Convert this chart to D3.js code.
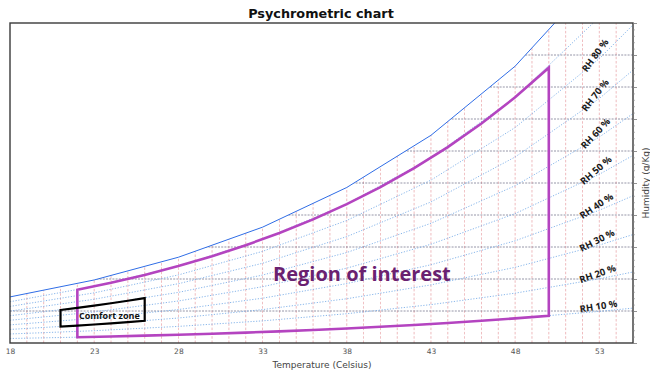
<!DOCTYPE html>
<html>
<head>
<meta charset="utf-8">
<script src="https://cdn.jsdelivr.net/npm/d3@7/dist/d3.min.js"></script>
<style>
  html, body { margin: 0; padding: 0; background: #fff; }
  svg { display: block; }
</style>
</head>
<body>
<svg id="chart" width="650" height="372"></svg>
<script>
// Dry-bulb temperatures (°C) at which the curves are tabulated
const tempKnots = [18, 23, 28, 33, 38, 43, 48, 53, 55];
// Saturation humidity ratio (g/kg)
const saturation = [14.4, 19.7, 26.8, 36.2, 48.6, 64.9, 86.5, 115.2, 129.4];
// Constant relative-humidity curves (g/kg)
const rhLevels = [10, 20, 30, 40, 50, 60, 70, 80, 90];
const rh10 = [1.41, 1.92, 2.58, 3.44, 4.54, 5.94, 7.69, 9.88, 10.90];
const rh20 = [2.82, 3.84, 5.19, 6.92, 9.15, 11.99, 15.57, 20.07, 22.19];
const rh30 = [4.24, 5.78, 7.81, 10.44, 13.83, 18.16, 23.65, 30.60, 33.89];
const rh40 = [5.66, 7.74, 10.46, 14.00, 18.57, 24.45, 31.94, 41.48, 46.02];
const rh50 = [7.10, 9.70, 13.13, 17.59, 23.39, 30.86, 40.44, 52.72, 58.62];
const rh60 = [8.53, 11.68, 15.82, 21.23, 28.28, 37.40, 49.16, 64.36, 71.69];
const rh70 = [9.98, 13.67, 18.53, 24.91, 33.25, 44.08, 58.13, 76.41, 85.28];
const rh80 = [11.43, 15.67, 21.27, 28.64, 38.29, 50.89, 67.33, 88.88, 99.40];
const rh90 = [12.89, 17.68, 24.03, 32.40, 43.41, 57.84, 76.78, 101.81, 114.1];
const rhLabels = ["RH 10 %", "RH 20 %", "RH 30 %", "RH 40 %", "RH 50 %", "RH 60 %", "RH 70 %", "RH 80 %"];

// Region of interest: 22–50 °C between RH 10 % and RH 90 %
const regionTemps = [22, 24, 26, 28, 30, 32, 34, 36, 38, 40, 42, 44, 46, 48, 50];
const regionUpper = [16.62, 18.82, 21.28, 24.03, 27.11, 30.55, 34.37, 38.64, 43.41, 48.71, 54.63, 61.23, 68.59, 76.78, 86.02];
const regionLower = [1.80, 2.04, 2.30, 2.58, 2.90, 3.25, 3.64, 4.07, 4.54, 5.06, 5.63, 6.26, 6.94, 7.69, 8.51];

// Comfort zone: 21–26 °C between RH 30 % and RH 60 %
const comfortTemps = [21, 22, 23, 24, 25, 26];
const comfortUpper = [10.31, 10.98, 11.68, 12.42, 13.20, 14.03];
const comfortLower = [5.11, 5.44, 5.78, 6.15, 6.53, 6.94];

// Grid and tick values
const tempGrid = d3.range(19, 55);
const humidityGrid = [10, 20, 30, 40, 50, 60, 70, 80, 90];
const xTickValues = [18, 23, 28, 33, 38, 43, 48, 53];

const rhSeries = [rh10, rh20, rh30, rh40, rh50, rh60, rh70, rh80, rh90];

// Label placement settings for the RH captions (rotation in degrees)
const labelT = 53;
const labelRotation = [-9, -19, -27, -34, -41, -47, -52, -54];

const margin = { left: 10, right: 17, top: 23, bottom: 29 };
const W = 650, H = 372;
const svg = d3.select("#chart");

const x = d3.scaleLinear().domain([18, 55]).range([margin.left, W - margin.right]);
const y = d3.scaleLinear().domain([0, 100]).range([H - margin.bottom, margin.top]);

const defs = svg.append("defs");
defs.append("clipPath").attr("id", "plot-clip")
  .append("rect")
  .attr("x", x(18)).attr("y", y(100))
  .attr("width", x(55) - x(18)).attr("height", y(0) - y(100));

// Area under the saturation curve – grid lines live inside it
const satPts = tempKnots.map((t, i) => [t, saturation[i]]);
defs.append("clipPath").attr("id", "sat-clip")
  .append("path")
  .attr("d", d3.area().x(d => x(d[0])).y0(y(0)).y1(d => y(d[1]))(satPts));

const plot = svg.append("g").attr("clip-path", "url(#plot-clip)");
const under = plot.append("g").attr("clip-path", "url(#sat-clip)");

// Constant dry-bulb temperature lines
under.selectAll("line.tgrid").data(tempGrid).join("line")
  .attr("class", "tgrid")
  .attr("x1", d => x(d)).attr("x2", d => x(d))
  .attr("y1", y(0)).attr("y2", y(100))
  .attr("stroke", "#dc6a70").attr("stroke-width", 0.75)
  .attr("stroke-dasharray", "2.5,1.8").attr("opacity", 0.6);

// Constant humidity lines
under.selectAll("line.wgrid").data(humidityGrid).join("line")
  .attr("class", "wgrid")
  .attr("x1", x(18)).attr("x2", x(55))
  .attr("y1", d => y(d)).attr("y2", d => y(d))
  .attr("stroke", "#52526e").attr("stroke-width", 0.8)
  .attr("stroke-dasharray", "2,1.2").attr("opacity", 0.75);

// Relative humidity curves
const line = d3.line().x(d => x(d[0])).y(d => y(d[1]));
under.selectAll("path.rh").data(rhSeries).join("path")
  .attr("class", "rh")
  .attr("d", s => line(tempKnots.map((t, i) => [t, s[i]])))
  .attr("fill", "none")
  .attr("stroke", "#7aaee8").attr("stroke-width", 0.9)
  .attr("stroke-dasharray", "1.2,1.6");

// Saturation curve
plot.append("path")
  .attr("d", line(satPts))
  .attr("fill", "none").attr("stroke", "#2f6de6").attr("stroke-width", 1);

// Region of interest outline
const regionPts = regionTemps.map((t, i) => [t, regionUpper[i]])
  .concat(regionTemps.map((t, i) => [t, regionLower[i]]).reverse());
plot.append("path")
  .attr("d", line(regionPts) + "Z")
  .attr("fill", "none").attr("stroke", "#b444c0").attr("stroke-width", 2.6)
  .attr("stroke-linejoin", "miter");

// Comfort zone outline
const comfortPts = comfortTemps.map((t, i) => [t, comfortUpper[i]])
  .concat(comfortTemps.map((t, i) => [t, comfortLower[i]]).reverse());
plot.append("path")
  .attr("d", line(comfortPts) + "Z")
  .attr("fill", "none").attr("stroke", "#000").attr("stroke-width", 2.2);

// RH labels, laid on their curves near 53 °C
const k = tempKnots.indexOf(labelT);
rhLabels.forEach((lab, i) => {
  const px = x(labelT), py = y(rhSeries[i][k]);
  svg.append("text")
    .attr("transform", `translate(${px},${py}) rotate(${labelRotation[i]})`)
    .attr("text-anchor", "middle").attr("dy", "-0.2em")
    .attr("font-family", "Open Sans, sans-serif").attr("font-weight", 700)
    .attr("font-size", 9.5).attr("fill", "#1a1a1a")
    .text(lab);
});

// Zone captions
svg.append("text")
  .attr("x", x(23.9)).attr("y", y(8.3))
  .attr("text-anchor", "middle").attr("dominant-baseline", "middle")
  .attr("font-family", "Open Sans, sans-serif").attr("font-weight", 700)
  .attr("font-size", 9).attr("fill", "#111")
  .text("Comfort zone");
svg.append("text")
  .attr("x", x(38.9)).attr("y", y(21.2))
  .attr("text-anchor", "middle").attr("dominant-baseline", "middle")
  .attr("font-family", "Open Sans, sans-serif").attr("font-weight", 700)
  .attr("font-size", 20).attr("fill", "#6a2170")
  .text("Region of interest");

// Frame
svg.append("rect")
  .attr("x", x(18)).attr("y", y(100))
  .attr("width", x(55) - x(18)).attr("height", y(0) - y(100))
  .attr("fill", "none").attr("stroke", "#3a3a3a").attr("stroke-width", 1.4);

// Bottom axis
const xAxis = svg.append("g")
  .attr("transform", `translate(0,${y(0)})`)
  .call(d3.axisBottom(x).tickValues(xTickValues).tickSize(0).tickPadding(6).tickFormat(d3.format("d")));
xAxis.select(".domain").remove();
xAxis.selectAll("text")
  .attr("font-family", "DejaVu Sans, sans-serif").attr("font-size", 7.5).attr("fill", "#555");

// Right axis: tick marks only
const yMajor = svg.append("g")
  .attr("transform", `translate(${x(55)},0)`)
  .call(d3.axisRight(y).tickValues(d3.range(0, 101, 10)).tickSize(4).tickFormat(""));
yMajor.select(".domain").remove();
yMajor.selectAll("line").attr("stroke", "#666").attr("stroke-width", 0.7);
const yMinor = svg.append("g")
  .attr("transform", `translate(${x(55)},0)`)
  .call(d3.axisRight(y).tickValues(d3.range(0, 101, 2)).tickSize(2).tickFormat(""));
yMinor.select(".domain").remove();
yMinor.selectAll("line").attr("stroke", "#888").attr("stroke-width", 0.6);

// Titles
svg.append("text")
  .attr("x", 321).attr("y", 18)
  .attr("text-anchor", "middle")
  .attr("font-family", "DejaVu Sans, sans-serif").attr("font-weight", 700)
  .attr("font-size", 12.8).attr("fill", "#111")
  .text("Psychrometric chart");
svg.append("text")
  .attr("x", 322).attr("y", 368)
  .attr("text-anchor", "middle")
  .attr("font-family", "DejaVu Sans, sans-serif")
  .attr("font-size", 9).attr("fill", "#444")
  .text("Temperature (Celsius)");
svg.append("text")
  .attr("transform", `translate(648.5,${(y(0) + y(100)) / 2}) rotate(-90)`)
  .attr("text-anchor", "middle")
  .attr("font-family", "DejaVu Sans, sans-serif")
  .attr("font-size", 9).attr("fill", "#444")
  .text("Humidity (g/Kg)");
</script>
</body>
</html>
